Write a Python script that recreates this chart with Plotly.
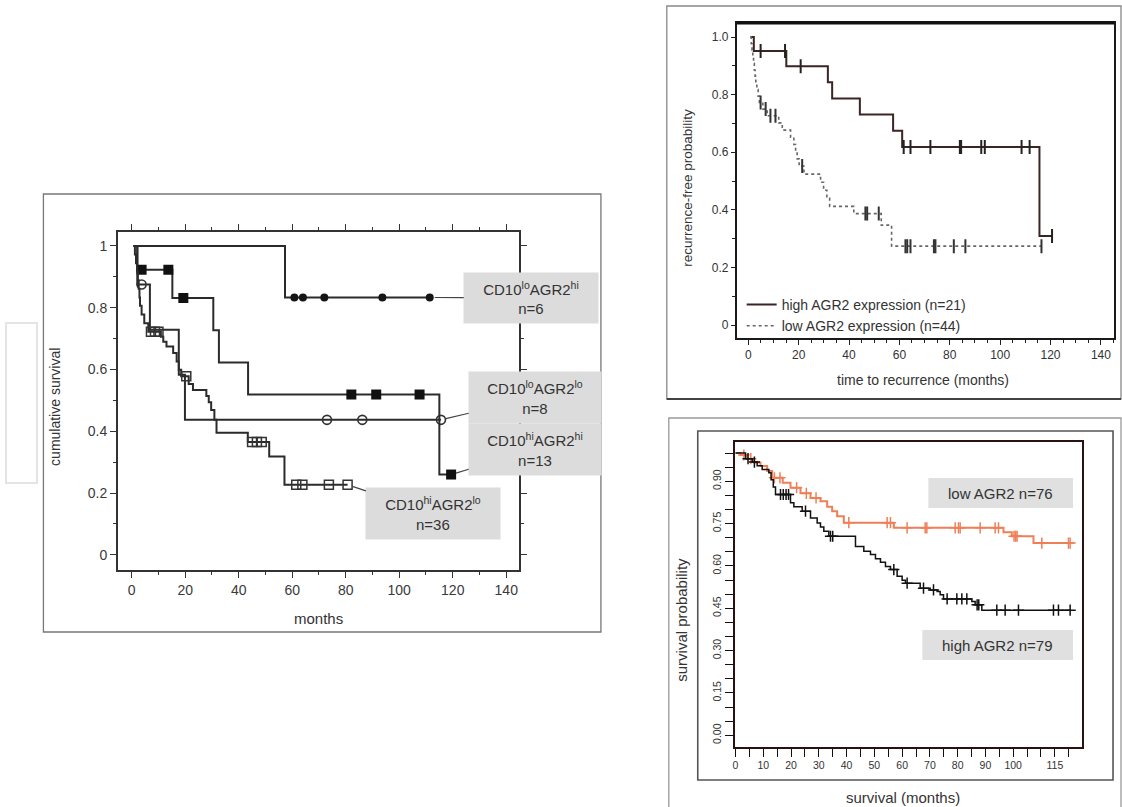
import numpy as np
import plotly.graph_objects as go

W, H = 1122, 807

# ---------------- Panel A: cumulative survival (months) ----------------
a_lohi_t = [0.7, 57.3]
a_lohi_s = [1.0, 0.833]
a_lohi_cens = [60.8, 64.0, 72.0, 93.7, 111.4]

a_lolo_t = [0.7, 2.1, 6.8, 17.6, 19.9]
a_lolo_s = [1.0, 0.875, 0.729, 0.583, 0.437]
a_lolo_cens = [3.7, 73.0, 86.2, 115.6]

a_hihi_t = [0.7, 2.1, 15.2, 30.5, 32.6, 43.5, 115.0]
a_hihi_s = [1.0, 0.923, 0.831, 0.727, 0.623, 0.519, 0.260]
a_hihi_cens = [3.7, 13.7, 19.3, 82.1, 91.4, 107.6, 119.4]

a_hilo_t = [0.7, 1.2, 1.6, 2.0, 2.3, 2.6, 2.9, 3.1, 3.7, 4.7, 6.2, 10.9, 11.8, 13.0,
            15.5, 16.8, 17.6, 18.5, 21.3, 22.9, 27.9, 28.8, 29.7, 30.9, 31.7, 43.4, 51.4, 57.1]
a_hilo_s = [1.0, 0.972, 0.944, 0.917, 0.889, 0.861, 0.833, 0.806, 0.778, 0.750, 0.722, 0.706,
            0.690, 0.674, 0.653, 0.626, 0.599, 0.578, 0.553, 0.534, 0.514, 0.494, 0.469, 0.437,
            0.395, 0.365, 0.318, 0.227]
a_hilo_cens = [7.2, 8.7, 10.0, 20.4, 45.0, 46.8, 48.6, 61.5, 63.8, 73.7, 80.7]

a_labels = ["CD10<sup>lo</sup>AGR2<sup>hi</sup><br>n=6",
            "CD10<sup>lo</sup>AGR2<sup>lo</sup><br>n=8",
            "CD10<sup>hi</sup>AGR2<sup>hi</sup><br>n=13",
            "CD10<sup>hi</sup>AGR2<sup>lo</sup><br>n=36"]

# ---------------- Panel B: recurrence-free probability ----------------
b_high_t = [0.9, 2.2, 15.1, 31.6, 33.3, 44.3, 57.5, 61.1, 115.6]
b_high_s = [1.0, 0.952, 0.899, 0.843, 0.787, 0.731, 0.675, 0.618, 0.309]
b_high_cens = [4.9, 14.6, 20.8, 61.7, 64.4, 72.3, 84.0, 84.5, 92.5, 93.9, 108.5, 111.7, 120.6]

b_low_t = [0.8, 1.2, 1.5, 1.8, 2.1, 2.4, 2.7, 3.0, 3.4, 3.9, 4.4, 5.8, 7.5, 12.1, 13.5,
           16.8, 18.1, 18.8, 19.4, 20.2, 22.1, 28.7, 29.9, 31.2, 32.3, 41.9, 52.8, 56.9]
b_low_s = [1.0, 0.977, 0.955, 0.932, 0.909, 0.886, 0.864, 0.841, 0.818, 0.795, 0.773, 0.750,
           0.727, 0.702, 0.677, 0.652, 0.627, 0.602, 0.577, 0.552, 0.524, 0.496, 0.468, 0.440,
           0.412, 0.387, 0.347, 0.274]
b_low_cens = [4.9, 6.9, 8.8, 10.8, 21.4, 46.5, 47.2, 51.8, 62.4, 63.1, 64.4, 73.7, 74.3,
              81.6, 86.2, 116.4]

b_names = ["high AGR2 expression (n=21)", "low AGR2 expression (n=44)"]
b_yticks = [0, 0.2, 0.4, 0.6, 0.8, 1.0]
b_yticktext = ["0", "0.2", "0.4", "0.6", "0.8", "1.0"]

# ---------------- Panel C: survival probability ----------------
c_high_t = [0, 3.6, 6.0, 7.8, 9.6, 12.0, 12.8, 13.6, 14.4, 19.8, 21.0, 24.0, 27.0, 29.4,
            30.6, 31.8, 33.6, 43.2, 46.2, 48.6, 50.4, 52.2, 54.0, 55.8, 58.2, 60.0, 61.2,
            66.5, 70.1, 72.6, 73.7, 74.9, 85.1, 86.3, 88.7]
c_high_s = [1.0, 0.98, 0.968, 0.955, 0.942, 0.93, 0.905, 0.88, 0.853, 0.824, 0.81, 0.794,
            0.77, 0.752, 0.738, 0.723, 0.705, 0.669, 0.652, 0.64, 0.625, 0.613, 0.598, 0.587,
            0.563, 0.549, 0.539, 0.521, 0.515, 0.509, 0.498, 0.483, 0.474, 0.462, 0.443]
c_high_cens = [4.5, 6.8, 16.2, 17.2, 18.2, 19.1, 25.2, 34.2, 35.0, 57.0, 61.8, 67.7, 71.3,
               76.2, 79.7, 81.5, 83.3, 87.0, 87.6, 94.1, 97.1, 101.9, 114.5, 116.3, 120.5]

c_low_t = [0, 1.8, 4.2, 6.6, 9.0, 11.4, 13.2, 17.0, 19.8, 23.4, 27.0, 30.6, 33.0, 34.8,
           36.6, 39.0, 57.0, 96.5, 99.5, 107.3]
c_low_s = [1.0, 0.993, 0.98, 0.966, 0.954, 0.936, 0.912, 0.895, 0.877, 0.857, 0.841, 0.829,
           0.81, 0.794, 0.776, 0.753, 0.735, 0.719, 0.705, 0.681]
c_low_cens = [3.0, 5.5, 14.0, 16.0, 22.0, 25.5, 29.0, 40.8, 54.6, 55.8, 61.8, 68.3, 68.9,
              79.1, 80.3, 80.9, 88.1, 93.5, 94.7, 100.3, 100.9, 101.4, 110.3, 119.9, 120.5]

c_labels = ["low AGR2 n=76", "high AGR2 n=79"]
c_xtick_labeled = [0, 10, 20, 30, 40, 50, 60, 70, 80, 90, 100, 115]
c_ytick_labeled = [0.0, 0.15, 0.30, 0.45, 0.60, 0.75, 0.90]


def km(t, s, cens):
    end = max(t[-1], max(cens))
    x = list(t) + [end]
    y = list(s) + [s[-1]]
    idx = np.searchsorted(np.array(t), np.array(cens), side="right") - 1
    cy = [s[i] for i in idx]
    return x, y, cy


FONT = "Liberation Sans, Arial, sans-serif"
fig = go.Figure()

# ---- geometry (pixels) ----
A = dict(x0=116, x1=518, y0=232, y1=570, xr=[-5.2, 144.8], yr=[-0.049, 1.045])
B = dict(x0=736, x1=1114, y0=23, y1=338, xr=[-4.6, 145.2], yr=[-0.045, 1.049])
C = dict(x0=734, x1=1082, y0=442, y1=747, xr=[-0.3, 124.8], yr=[-0.0416, 1.039])


def to_px(P, xv, yv):
    px = P["x0"] + (xv - P["xr"][0]) / (P["xr"][1] - P["xr"][0]) * (P["x1"] - P["x0"])
    py = P["y1"] - (yv - P["yr"][0]) / (P["yr"][1] - P["yr"][0]) * (P["y1"] - P["y0"])
    return px, py


# ---- Panel A traces ----
a_series = [
    (a_lohi_t, a_lohi_s, a_lohi_cens, dict(symbol="circle", size=8, color="#151515")),
    (a_lolo_t, a_lolo_s, a_lolo_cens, dict(symbol="circle-open", size=9, color="#333",
                                           line=dict(width=1.6, color="#333"))),
    (a_hihi_t, a_hihi_s, a_hihi_cens, dict(symbol="square", size=10, color="#111")),
    (a_hilo_t, a_hilo_s, a_hilo_cens, dict(symbol="square-open", size=9, color="#333",
                                           line=dict(width=1.5, color="#333"))),
]
a_last = []
for t, s, cens, mk in a_series:
    x, y, cy = km(t, s, cens)
    fig.add_trace(go.Scatter(x=x, y=y, mode="lines", line=dict(shape="hv", color="#2b2b2b", width=2),
                             showlegend=False, xaxis="x", yaxis="y"))
    fig.add_trace(go.Scatter(x=cens, y=cy, mode="markers", marker=mk,
                             showlegend=False, xaxis="x", yaxis="y"))
    a_last.append((cens[-1], cy[-1]))

# ---- Panel B traces ----
x, y, cy = km(b_high_t, b_high_s, b_high_cens)
fig.add_trace(go.Scatter(x=x, y=y, mode="lines", name=b_names[0],
                         line=dict(shape="hv", color="#3a2424", width=2),
                         xaxis="x2", yaxis="y2", showlegend=True))
fig.add_trace(go.Scatter(x=b_high_cens, y=cy, mode="markers", showlegend=False,
                         marker=dict(symbol="line-ns-open", size=10, color="#222",
                                     line=dict(width=2, color="#222")),
                         xaxis="x2", yaxis="y2"))
x, y, cy = km(b_low_t, b_low_s, b_low_cens)
fig.add_trace(go.Scatter(x=x, y=y, mode="lines", name=b_names[1],
                         line=dict(shape="hv", color="#666", width=1.6, dash="dot"),
                         xaxis="x2", yaxis="y2", showlegend=True))
fig.add_trace(go.Scatter(x=b_low_cens, y=cy, mode="markers", showlegend=False,
                         marker=dict(symbol="line-ns-open", size=10, color="#333",
                                     line=dict(width=2, color="#333")),
                         xaxis="x2", yaxis="y2"))

# ---- Panel C traces ----
ORANGE = "#ef7f57"
x, y, cy = km(c_low_t, c_low_s, c_low_cens)
fig.add_trace(go.Scatter(x=x, y=y, mode="lines", line=dict(shape="hv", color=ORANGE, width=2),
                         showlegend=False, xaxis="x3", yaxis="y3"))
fig.add_trace(go.Scatter(x=c_low_cens, y=cy, mode="markers", showlegend=False,
                         marker=dict(symbol="cross-thin-open", size=8, color=ORANGE,
                                     line=dict(width=1.5, color=ORANGE)),
                         xaxis="x3", yaxis="y3"))
x, y, cy = km(c_high_t, c_high_s, c_high_cens)
fig.add_trace(go.Scatter(x=x, y=y, mode="lines", line=dict(shape="hv", color="#111", width=1.5),
                         showlegend=False, xaxis="x3", yaxis="y3"))
fig.add_trace(go.Scatter(x=c_high_cens, y=cy, mode="markers", showlegend=False,
                         marker=dict(symbol="cross-thin-open", size=8, color="#111",
                                     line=dict(width=1.5, color="#111")),
                         xaxis="x3", yaxis="y3"))


def dom_x(P):
    return [P["x0"] / W, P["x1"] / W]


def dom_y(P):
    return [1 - P["y1"] / H, 1 - P["y0"] / H]


tickfontA = dict(family=FONT, size=14, color="#3a3a3a")
tickfontB = dict(family=FONT, size=12, color="#333")
tickfontC = dict(family=FONT, size=10.5, color="#333")

c_ytext = ["%.2f" % v for v in c_ytick_labeled]

fig.update_layout(
    width=W, height=H, autosize=False,
    margin=dict(l=0, r=0, t=0, b=0),
    paper_bgcolor="white", plot_bgcolor="white",
    font=dict(family=FONT, color="#333"),
    xaxis=dict(domain=dom_x(A), range=A["xr"], anchor="y", dtick=20, tick0=0,
               ticks="outside", ticklen=6, tickwidth=1.3, tickcolor="#333",
               minor=dict(ticks="outside", dtick=10, tick0=0, ticklen=3, tickcolor="#333"),
               showline=True, linecolor="#333", linewidth=1.6, mirror="allticks",
               showgrid=False, zeroline=False, tickfont=tickfontA),
    yaxis=dict(domain=dom_y(A), range=A["yr"], anchor="x", dtick=0.2, tick0=0,
               ticks="outside", ticklen=6, tickwidth=1.3, tickcolor="#333",
               minor=dict(ticks="outside", dtick=0.1, tick0=0, ticklen=3, tickcolor="#333"),
               showline=True, linecolor="#333", linewidth=1.6, mirror="allticks",
               showgrid=False, zeroline=False, tickfont=tickfontA),
    xaxis2=dict(domain=dom_x(B), range=B["xr"], anchor="y2", dtick=20, tick0=0,
                ticks="outside", ticklen=5, tickwidth=1.2, tickcolor="#222",
                minor=dict(ticks="outside", dtick=5, tick0=0, ticklen=3, tickcolor="#222"),
                showline=True, linecolor="#1a1a1a", linewidth=1.6, mirror=True,
                showgrid=False, zeroline=False, tickfont=tickfontB),
    yaxis2=dict(domain=dom_y(B), range=B["yr"], anchor="x2", tickmode="array",
                tickvals=b_yticks, ticktext=b_yticktext,
                ticks="outside", ticklen=4, tickwidth=1.2, tickcolor="#222",
                minor=dict(ticks="outside", dtick=0.1, tick0=0, ticklen=3, tickcolor="#222"),
                showline=True, linecolor="#1a1a1a", linewidth=1.6, mirror=True,
                showgrid=False, zeroline=False, tickfont=tickfontB),
    xaxis3=dict(domain=dom_x(C), range=C["xr"], anchor="y3", tickmode="array",
                tickvals=c_xtick_labeled, ticktext=[str(v) for v in c_xtick_labeled],
                ticks="outside", ticklen=8, tickwidth=1.3, tickcolor="#111",
                minor=dict(ticks="outside", dtick=5, tick0=0, ticklen=8, tickwidth=1.3, tickcolor="#111"),
                showline=True, linecolor="#2a1212", linewidth=1.6, mirror=True,
                showgrid=False, zeroline=False, tickfont=tickfontC),
    yaxis3=dict(domain=dom_y(C), range=C["yr"], anchor="x3", tickmode="array",
                tickvals=c_ytick_labeled, ticktext=c_ytext, tickangle=-90,
                ticks="outside", ticklen=8, tickwidth=1.3, tickcolor="#111",
                minor=dict(ticks="outside", dtick=0.05, tick0=0, ticklen=8, tickwidth=1.3, tickcolor="#111"),
                showline=True, linecolor="#2a1212", linewidth=1.6, mirror=True,
                showgrid=False, zeroline=False, tickfont=tickfontC),
    legend=dict(x=741 / W, y=1 - 289 / H, xanchor="left", yanchor="top",
                bgcolor="rgba(0,0,0,0)", font=dict(family=FONT, size=14, color="#333"),
                tracegroupgap=0, itemwidth=30),
)


def prect(x0, y0, x1, y1, color, width=1.2, fill=None):
    return dict(type="rect", xref="paper", yref="paper", x0=x0 / W, x1=x1 / W,
                y0=1 - y1 / H, y1=1 - y0 / H, line=dict(color=color, width=width),
                fillcolor=fill if fill else "rgba(0,0,0,0)", layer="below")


shapes = [
    prect(4, 323, 35, 483, "#e4e4e4", 2),
    prect(41.5, 194, 600, 632, "#777", 1.3),
    prect(666, 6, 1121, 399, "#888", 1.3),
    dict(type="line", xref="paper", yref="paper", x0=666 / W, x1=1121 / W,
         y0=1 - 399 / H, y1=1 - 399 / H, line=dict(color="#222", width=1.6)),
    dict(type="line", xref="paper", yref="paper", x0=B["x0"] / W, x1=B["x1"] / W,
         y0=1 - B["y0"] / H, y1=1 - B["y0"] / H, line=dict(color="#111", width=3)),
    prect(668, 418, 1121, 808, "#9a9a9a", 1.3),
    prect(697, 431, 1113, 780, "#555", 1.6),
    # panel C label boxes
    prect(928, 478, 1073, 508, "rgba(0,0,0,0)", 0, "#e0e0e0"),
    prect(922, 630, 1073, 660, "rgba(0,0,0,0)", 0, "#e0e0e0"),
]
fig.update_layout(shapes=shapes)

ann = []
# Panel A labels with connectors
a_box_centers = [(530, 298), (534, 397.5), (534, 449.5), (432, 513.5)]
a_box_sizes = [(134, 50), (132, 51), (132, 51), (134, 51)]
for lab, (cx, cy_), (bw, bh), (lx, ly) in zip(a_labels, a_box_centers, a_box_sizes, a_last):
    px, py = to_px(A, lx, ly)
    ann.append(dict(x=lx, y=ly, xref="x", yref="y", ax=cx - px, ay=cy_ - py,
                    axref="pixel", ayref="pixel", text=lab, showarrow=True, arrowhead=0,
                    arrowwidth=1.2, arrowcolor="#444", standoff=5,
                    bgcolor="#dcdcdc", width=bw, height=bh, borderpad=0, align="center",
                    font=dict(family=FONT, size=15, color="#333")))


def ptext(x, y, text, size, angle=0, color="#333"):
    return dict(x=x / W, y=1 - y / H, xref="paper", yref="paper", text=text, showarrow=False,
                textangle=angle, xanchor="center", yanchor="middle",
                font=dict(family=FONT, size=size, color=color))


ann += [
    ptext(317, 618, "months", 15),
    ptext(53, 407, "cumulative survival", 14, -90),
    ptext(923, 380, "time to recurrence (months)", 14),
    ptext(687, 188, "recurrence-free probability", 13.5, -90),
    ptext(903, 797, "survival (months)", 15),
    ptext(680, 620, "survival probability", 15, -90),
    ptext(1000.5, 493, c_labels[0], 15),
    ptext(997.5, 645, c_labels[1], 15),
]
fig.update_layout(annotations=ann)

fig.write_html("out.html", config={"displayModeBar": False},
               post_script="document.body.style.margin='0';document.body.style.overflow='hidden';")
